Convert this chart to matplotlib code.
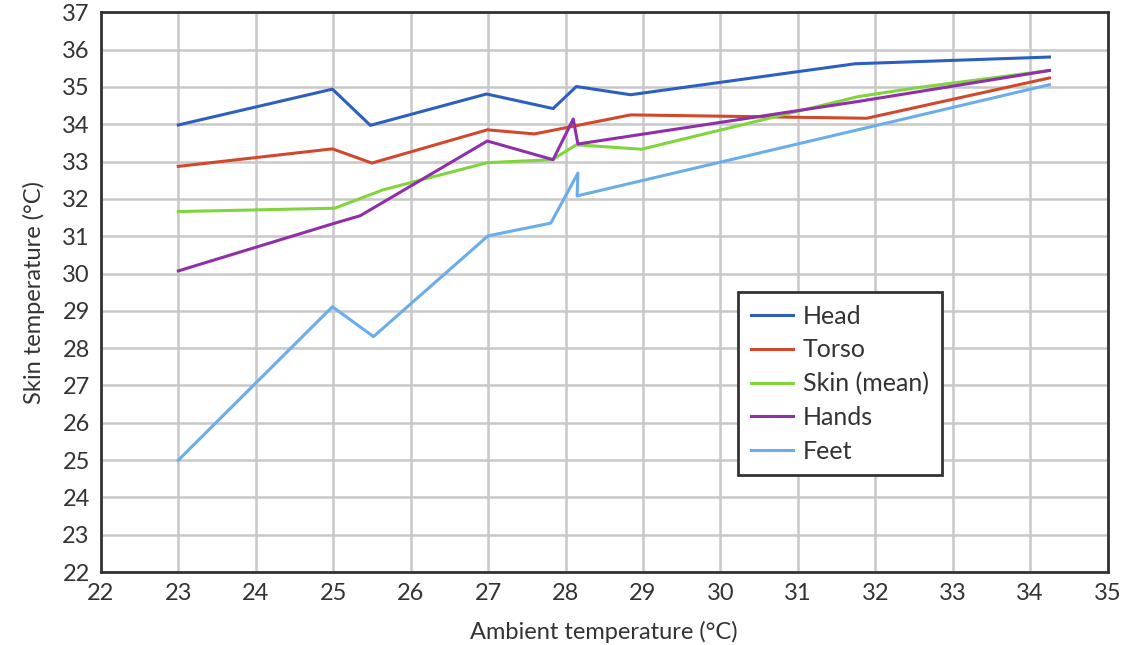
import matplotlib.pyplot as plt

# values
head_x = [23.0, 24.99, 25.48, 26.98, 27.84, 28.14, 28.84, 31.74, 34.25]
head_y = [33.98, 34.94, 33.97, 34.81, 34.42, 35.01, 34.79, 35.62, 35.8]

torso_x = [23.0, 24.99, 25.5, 26.99, 27.6, 28.84, 31.89, 34.25]
torso_y = [32.87, 33.34, 32.96, 33.85, 33.74, 34.25, 34.16, 35.24]

skin_x = [23.0, 25.02, 25.64, 26.99, 27.83, 28.14, 28.98, 31.78, 32.51, 34.25]
skin_y = [31.66, 31.75, 32.24, 32.97, 33.05, 33.45, 33.33, 34.74, 34.97, 35.44]

hands_x = [23.0, 24.99, 25.35, 26.99, 27.84, 28.10, 28.16, 31.78, 34.25]
hands_y = [30.07, 31.33, 31.55, 33.55, 33.05, 34.14, 33.47, 34.61, 35.44]

feet_x = [23.0, 24.99, 25.52, 27.0, 27.81, 28.16, 28.15, 34.25]
feet_y = [25.0, 29.11, 28.31, 31.01, 31.35, 32.69, 32.08, 35.06]

x_ticks = list(range(22, 36))
y_ticks = list(range(22, 38))

plt.rcParams['font.family'] = ['Lato', 'DejaVu Sans']

fig = plt.figure(figsize=(11.21, 6.45), dpi=100)
ax = fig.add_axes([0.090, 0.113, 0.898, 0.868])

ax.plot(head_x, head_y, color='#2c5fbf', lw=2.2, label='Head')
ax.plot(torso_x, torso_y, color='#d2482c', lw=2.2, label='Torso')
ax.plot(skin_x, skin_y, color='#80d43c', lw=2.2, label='Skin (mean)')
ax.plot(hands_x, hands_y, color='#8f2fa9', lw=2.2, label='Hands')
ax.plot(feet_x, feet_y, color='#6badea', lw=2.2, label='Feet')

ax.set_xlim(22, 35)
ax.set_ylim(22, 37)
ax.set_xticks(x_ticks)
ax.set_yticks(y_ticks)
ax.tick_params(length=0, labelsize=17, colors='#333333', pad=8)
ax.grid(True, color='#c8c8c8', lw=1.8)
ax.set_axisbelow(True)
for s in ax.spines.values():
    s.set_color('#333333')
    s.set_linewidth(2)

ax.set_xlabel('Ambient temperature (°C)', fontsize=17, color='#333333', labelpad=12)
ax.set_ylabel('Skin temperature (°C)', fontsize=17, color='#333333', labelpad=12)

leg = ax.legend(loc='upper left', bbox_to_anchor=(0.633, 0.5), fontsize=18,
                fancybox=False, framealpha=1, edgecolor='#333333',
                handlelength=1.7, handletextpad=0.4, labelspacing=0.43,
                borderpad=0.5, borderaxespad=0)
leg.get_frame().set_linewidth(2)
for t in leg.get_texts():
    t.set_color('#333333')

fig.savefig('out.png', dpi=100)
